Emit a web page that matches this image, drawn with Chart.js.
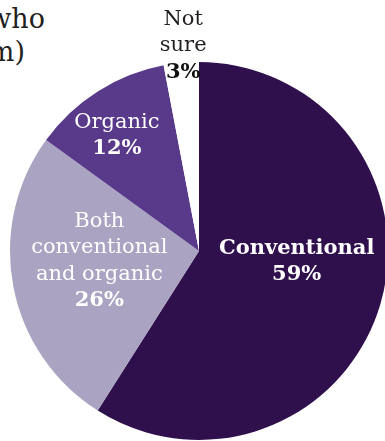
<!DOCTYPE html>
<html>
<head>
<meta charset="utf-8">
<script src="https://cdn.jsdelivr.net/npm/chart.js@4/dist/chart.umd.min.js"></script>
<style>
  html, body { margin: 0; padding: 0; background: #fff; }
  body { width: 385px; height: 441px; overflow: hidden; position: relative; }
  .title {
    position: absolute; text-align: right; white-space: nowrap;
    font-family: 'DejaVu Serif', serif; font-size: 27px; line-height: 33px; color: #231f20;
  }
  #wrap { position: absolute; left: 0; top: 0; width: 400px; height: 441px; }
</style>
</head>
<body>
<div class="title" style="right:340px; top:2px;">People who</div>
<div class="title" style="right:360px; top:35px;">(some of them)</div>
<div id="wrap"><canvas id="pie" width="400" height="441"></canvas></div>
<script>
// Slices in clockwise order from 12 o'clock
const categories = ['Conventional', 'Both conventional and organic', 'Organic', 'Not sure'];
const shares = [59, 26, 12, 3];
const labelLines = [['Conventional'], ['Both', 'conventional', 'and organic'], ['Organic'], ['Not', 'sure']];
const colors = ['#2f104d', '#aaa3c2', '#58398a', '#ffffff'];

// label placement: fraction of radius, angle shift (degrees) from slice middle
const placement = [
  { r: 0.52, shift: -10, color: '#fff', boldName: true },
  { r: 0.53, shift: 5, color: '#fff', boldName: false },
  { r: 0.75, shift: -3, color: '#fff', boldName: false },
  { r: 1.09, shift: 1, color: '#231f20', boldName: false },
];

const sliceLabels = {
  id: 'sliceLabels',
  afterDraw(chart) {
    const ctx = chart.ctx;
    const arcs = chart.getDatasetMeta(0).data;
    const lh = 26.5;
    arcs.forEach((arc, i) => {
      const p = placement[i];
      const mid = (arc.startAngle + arc.endAngle) / 2 + p.shift * Math.PI / 180;
      const x = arc.x + Math.cos(mid) * arc.outerRadius * p.r;
      const y = arc.y + Math.sin(mid) * arc.outerRadius * p.r;
      const lines = labelLines[i];
      const total = lines.length + 1;
      let ty = y - (total - 1) * lh / 2;
      ctx.save();
      ctx.fillStyle = p.color;
      ctx.textAlign = 'center';
      ctx.textBaseline = 'middle';
      lines.forEach((line) => {
        ctx.font = (p.boldName ? 'bold ' : '') + '21px "DejaVu Serif"';
        ctx.fillText(line, x, ty);
        ty += lh;
      });
      ctx.font = 'bold 21px "DejaVu Serif"';
      if (i === 3) ctx.fillStyle = '#111';
      ctx.fillText(shares[i] + '%', x, ty);
      ctx.restore();
    });
  },
};

new Chart(document.getElementById('pie'), {
  type: 'pie',
  data: {
    labels: categories,
    datasets: [{ data: shares, backgroundColor: colors, borderWidth: 0 }],
  },
  options: {
    responsive: false,
    animation: false,
    layout: { padding: { left: 10, top: 62, right: 12, bottom: 1 } },
    plugins: { legend: { display: false }, tooltip: { enabled: false } },
  },
  plugins: [sliceLabels],
});
</script>
</body>
</html>
